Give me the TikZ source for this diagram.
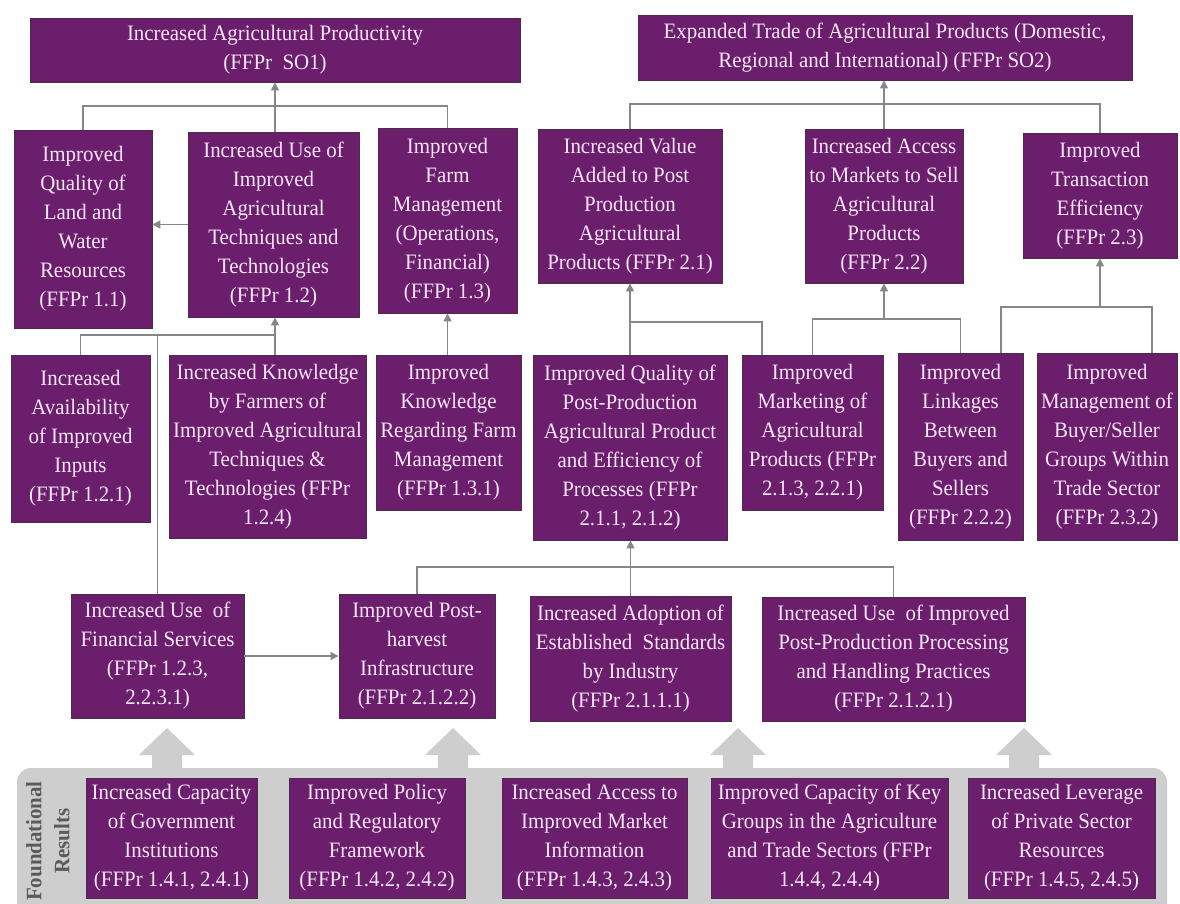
\documentclass[tikz,border=0pt]{standalone}
\usepackage{fontspec}
\setmainfont{Liberation Serif}[FakeStretch=0.95]
\usetikzlibrary{arrows.meta,calc}
\definecolor{boxpurple}{RGB}{106,30,108}
\definecolor{boxedge}{RGB}{80,40,80}
\definecolor{boxtext}{RGB}{250,230,250}
\definecolor{linegray}{RGB}{135,135,135}
\definecolor{bandgray}{RGB}{206,206,206}
\definecolor{labelgray}{RGB}{90,90,90}
\newcommand{\mkbox}[6]{%
  \node[pbox, minimum width={(#4-#2)*1pt}, minimum height={(#5-#3)*1pt}] (#1) at ({(#2+#4)/2},{(#3+#5)/2}) {#6};}
\begin{document}
\begin{tikzpicture}[x=1pt,y=-1pt,
  pbox/.style={fill=boxpurple, draw=boxedge, line width=0.8pt, text=boxtext, align=center,
    font=\fontsize{22}{29}\selectfont, inner sep=0pt},
  conn/.style={draw=linegray, line width=1.5pt},
  arr/.style={conn, -{Triangle[width=8pt,length=8pt]}},
  bigarrow/.style={fill=bandgray},
]
\useasboundingbox (0,0) rectangle (1180,903);
\clip (0,0) rectangle (1180,903);
\fill[white] (0,0) rectangle (1180,903);

% foundational band and big arrows
\fill[bandgray, rounded corners=14pt] (17,768) rectangle (1167,935);
\foreach \ax in {167,453,738,1024}{
  \fill[bigarrow] (\ax-15,770) -- (\ax-15,755) -- (\ax-28,755) -- (\ax,728) -- (\ax+28,755) -- (\ax+15,755) -- (\ax+15,770) -- cycle;
}
\node[rotate=90, align=center, text=labelgray, font=\fontsize{22}{28}\selectfont\bfseries] (fr) at (48,841) {Foundational\\Results};

% top objectives
\mkbox{so1}{30}{18}{520}{82}{Increased Agricultural Productivity\\(FFPr\ \ SO1)}
\mkbox{so2}{638}{15}{1132}{80}{Expanded Trade of Agricultural Products (Domestic,\\Regional and International) (FFPr SO2)}

% second row
\mkbox{n11}{14}{130}{152}{328}{Improved\\Quality of\\Land and\\Water\\Resources\\(FFPr 1.1)}
\mkbox{n12}{188}{132}{359}{317}{Increased Use of\\Improved\\Agricultural\\Techniques and\\Technologies\\(FFPr 1.2)}
\mkbox{n13}{378}{128}{517}{313}{Improved\\Farm\\Management\\(Operations,\\Financial)\\(FFPr 1.3)}
\mkbox{n21}{538}{129}{722}{283}{Increased Value\\Added to Post\\Production\\Agricultural\\Products (FFPr 2.1)}
\mkbox{n22}{805}{129}{963}{283}{Increased Access\\to Markets to Sell\\Agricultural\\Products\\(FFPr 2.2)}
\mkbox{n23}{1023}{133}{1177}{258}{Improved\\Transaction\\Efficiency\\(FFPr 2.3)}

% third row
\mkbox{n121}{11}{355}{150}{522}{Increased\\Availability\\of Improved\\Inputs\\(FFPr 1.2.1)}
\mkbox{n124}{169}{355}{366}{538}{Increased Knowledge\\by Farmers of\\Improved Agricultural\\Techniques \&\\Technologies (FFPr\\1.2.4)}
\mkbox{n131}{376}{355}{521}{510}{Improved\\Knowledge\\Regarding Farm\\Management\\(FFPr 1.3.1)}
\mkbox{nq}{533}{355}{727}{540}{Improved Quality of\\Post-Production\\Agricultural Product\\and Efficiency of\\Processes (FFPr\\2.1.1, 2.1.2)}
\mkbox{nm}{742}{355}{883}{510}{Improved\\Marketing of\\Agricultural\\Products (FFPr\\2.1.3, 2.2.1)}
\mkbox{nl}{898}{353}{1023}{540}{Improved\\Linkages\\Between\\Buyers and\\Sellers\\(FFPr 2.2.2)}
\mkbox{n232}{1037}{353}{1177}{540}{Improved\\Management of\\Buyer/Seller\\Groups Within\\Trade Sector\\(FFPr 2.3.2)}

% fourth row
\mkbox{nfin}{71}{594}{244}{718}{Increased Use\ \ of\\Financial Services\\(FFPr 1.2.3,\\2.2.3.1)}
\mkbox{nph}{339}{594}{495}{718}{Improved Post-\\harvest\\Infrastructure\\(FFPr 2.1.2.2)}
\mkbox{nad}{530}{596}{731}{721}{Increased Adoption of\\Established\ \ Standards\\by Industry\\(FFPr 2.1.1.1)}
\mkbox{nhd}{762}{597}{1025}{721}{Increased Use\ \ of Improved\\Post-Production Processing\\and Handling Practices\\(FFPr 2.1.2.1)}

% foundational results
\mkbox{f1}{86}{778}{257}{898}{Increased Capacity\\of Government\\Institutions\\(FFPr 1.4.1, 2.4.1)}
\mkbox{f2}{289}{778}{465}{898}{Improved Policy\\and Regulatory\\Framework\\(FFPr 1.4.2, 2.4.2)}
\mkbox{f3}{502}{778}{687}{898}{Increased Access to\\Improved Market\\Information\\(FFPr 1.4.3, 2.4.3)}
\mkbox{f4}{711}{778}{948}{898}{Improved Capacity of Key\\Groups in the Agriculture\\and Trade Sectors (FFPr\\1.4.4, 2.4.4)}
\mkbox{f5}{968}{778}{1155}{898}{Increased Leverage\\of Private Sector\\Resources\\(FFPr 1.4.5, 2.4.5)}

% connectors to SO1
\draw[conn] (n11.north) -- (n11.north |- 0,106) -| (n13.north);
\draw[arr] (so1.south |- n12.north) -- (so1.south);
\draw[arr] (n12.west) -- (n12.west -| n11.east);
% connectors to 1.2 and 1.3
\draw[conn] (n121.north) -- (n121.north |- 0,335) -- (275,335);
\draw[arr] (275,0 |- n124.north) -- (275,0 |- n12.south);
\draw[conn] (nfin.north) -- (nfin.north |- 0,335);
\draw[arr] (n13.south |- n131.north) -- (n13.south);
% connectors to SO2
\draw[conn] (n21.north) -- (n21.north |- 0,104) -| (n23.north);
\draw[arr] (n22.north) -- (n22.north |- so2.south);
% connectors to 2.1, 2.2, 2.3
\draw[conn] (762,0 |- nm.north) -- (762,322) -- (n21.south |- 0,322);
\draw[arr] (nq.north) -- (n21.south);
\draw[conn] (nm.north) -- (nm.north |- 0,319) -| (nl.north);
\draw[arr] (n22.south |- 0,319) -- (n22.south);
\draw[conn] (1001,0 |- nl.north) -- (1001,307) -- (1152,307) -- (1152,0 |- n232.north);
\draw[arr] (n23.south |- 0,307) -- (n23.south);
% fourth row connectors
\draw[arr] (nfin.east) -- (nfin.east -| nph.west);
\draw[conn] (nph.north) -- (nph.north |- 0,567) -| (nhd.north);
\draw[arr] (nad.north) -- (nad.north |- nq.south);
\end{tikzpicture}
\end{document}
